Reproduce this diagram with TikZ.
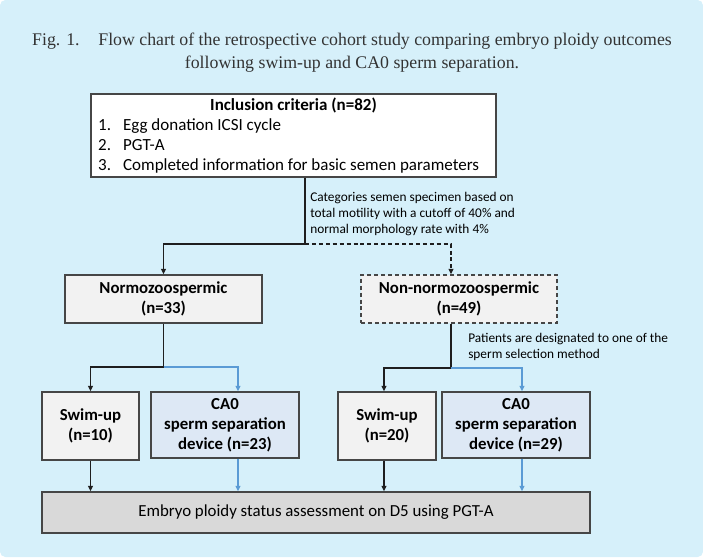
\documentclass[tikz,border=0pt]{standalone}
\usepackage{fontspec}
\setmainfont{Liberation Serif}
\newfontfamily\boxfont{Carlito}
\usetikzlibrary{calc, positioning}
\usetikzlibrary{arrows.meta}

\definecolor{bgblue}{RGB}{214,240,250}
\definecolor{boxgrey}{RGB}{242,242,242}
\definecolor{cablue}{RGB}{221,232,245}
\definecolor{assessgrey}{RGB}{217,217,217}
\definecolor{boxline}{RGB}{70,70,70}
\definecolor{arrowdark}{RGB}{30,30,30}
\definecolor{arrowblue}{RGB}{91,155,213}
\definecolor{titlegrey}{RGB}{51,51,51}

\tikzset{
  box/.style={draw=boxline, line width=1.1pt, fill=boxgrey, align=center,
    inner sep=0pt, font=\boxfont\fontsize{12.6}{15}\selectfont\bfseries},
  cabox/.style={box, fill=cablue},
  note/.style={anchor=west, align=left, inner sep=0pt,
    font=\boxfont\fontsize{10}{12}\selectfont},
  link/.style={line width=0.9pt, draw=arrowdark},
  arr/.style={link, -{Triangle[length=4pt,width=3.6pt]}},
  bluearr/.style={arr, draw=arrowblue, line width=0.8pt}
}

\begin{document}
\begin{tikzpicture}[x=0.75pt,y=-0.75pt]
\def\px{0.75pt}
\useasboundingbox (0,0) rectangle (703,557);
\fill[bgblue, rounded corners=4pt] (0,0) rectangle (703,557);

% Caption
\node[align=center, text=titlegrey, font=\fontsize{13.35}{17.25}\selectfont] (title) at (352,53)
  {Fig. 1.\hspace{14pt}Flow chart of the retrospective cohort study comparing embryo ploidy outcomes\\
   following swim-up and CA0 sperm separation.};

% Boxes
\node[box, fill=white, minimum width=405*\px, minimum height=83*\px, align=left,
  font=\boxfont\fontsize{12.75}{15}\selectfont] (incl) at (293.5,135.5)
  {\makebox[293pt][c]{\bfseries Inclusion criteria (n=82)}\\
   \makebox[18.75pt][l]{1.}Egg donation ICSI cycle\\
   \makebox[18.75pt][l]{2.}PGT-A\\
   \makebox[18.75pt][l]{3.}Completed information for basic semen parameters};
\node[box, minimum width=197*\px, minimum height=48*\px] (normo) at (163.5,299)
  {Normozoospermic\\(n=33)};
\node[box, dashed, dash pattern=on 3pt off 2.2pt, minimum width=196*\px, minimum height=48*\px]
  (nonnormo) at (459,299) {Non-normozoospermic\\(n=49)};
\node[box, minimum width=97*\px, minimum height=68*\px] (swimA) at (90.5,426)
  {Swim-up\\(n=10)};
\node[cabox, minimum width=148*\px, minimum height=66*\px] (caA) at (225,425)
  {CA0\\sperm separation\\device (n=23)};
\node[box, minimum width=98*\px, minimum height=68*\px] (swimB) at (387,426)
  {Swim-up\\(n=20)};
\node[cabox, minimum width=148*\px, minimum height=66*\px] (caB) at (516,425)
  {CA0\\sperm separation\\device (n=29)};
\node[box, fill=assessgrey, minimum width=548*\px, minimum height=41*\px,
  font=\boxfont\fontsize{12.65}{15}\selectfont] (assess) at (316,512.5)
  {Embryo ploidy status assessment on D5 using PGT-A};

% Notes
\node[note] (catnote) at (310,214)
  {Categories semen specimen based on\\total motility with a cutoff of 40\% and\\normal morphology rate with 4\%};
\node[note] (selnote) at (468,346.5)
  {Patients are designated to one of the\\sperm selection method};

% Split after inclusion
\coordinate (split) at (305,244);
\draw[link] (split |- incl.south) -- (split);
\draw[arr] (split) -| (normo.north);
\draw[arr, dashed, dash pattern=on 3pt off 2.2pt] (split) -| ([xshift=-6pt]nonnormo.north);

% Normozoospermic branch
\coordinate (splitA) at (163.5,367);
\coordinate (caAx) at ([xshift=9.75pt]caA.south);
\draw[link] (normo.south) -- (splitA);
\draw[arr] (splitA) -| (swimA.north);
\draw[bluearr] (splitA) -| ([xshift=9.75pt]caA.north);

% Non-normozoospermic branch
\coordinate (splitB) at (451,368);
\coordinate (swimBx) at ([xshift=-2.25pt]swimB.south);
\coordinate (caBx) at ([xshift=4.5pt]caB.south);
\draw[link] ([xshift=-6pt]nonnormo.south) -- (splitB);
\draw[arr] (splitB) -| ([xshift=-2.25pt]swimB.north);
\draw[bluearr] (splitB) -| ([xshift=4.5pt]caB.north);

% Into assessment
\draw[arr] (swimA.south) -- (swimA.south |- assess.north);
\draw[bluearr] (caAx) -- (caAx |- assess.north);
\draw[arr] (swimBx) -- (swimBx |- assess.north);
\draw[bluearr] (caBx) -- (caBx |- assess.north);
\end{tikzpicture}
\end{document}
